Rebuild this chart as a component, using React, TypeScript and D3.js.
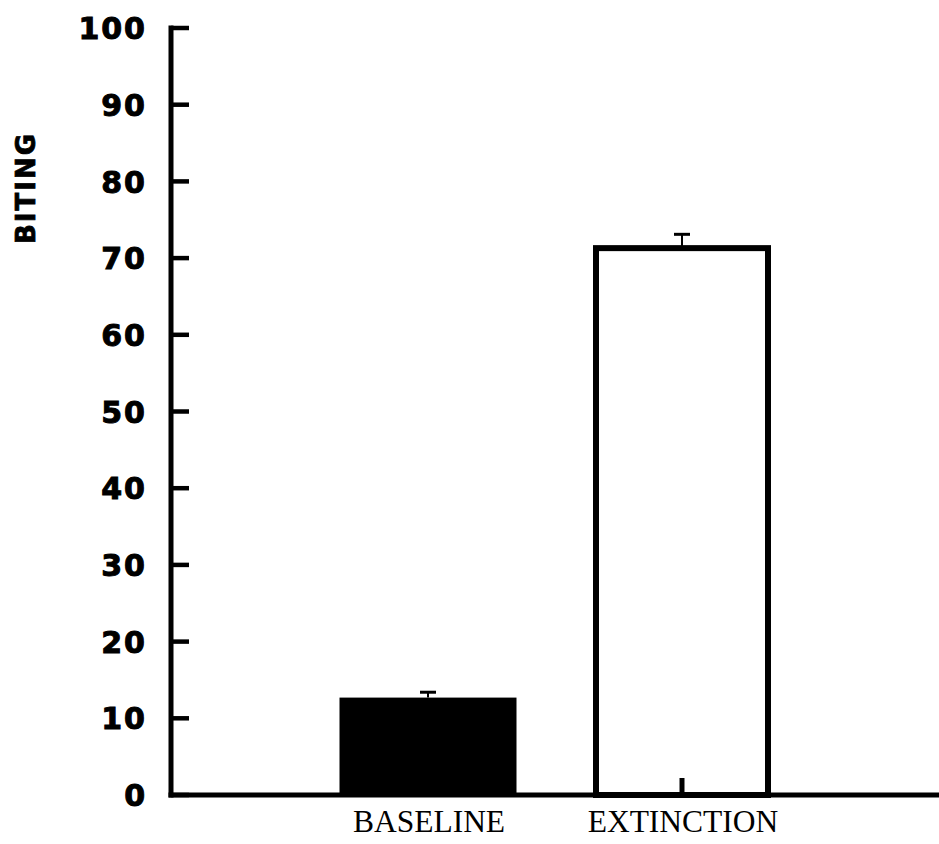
import React from "react";
import * as d3 from "d3";

// Biting rate per condition, with the upper error bound
const categories = ["BASELINE", "EXTINCTION"];
const means = [12.7, 71.3];
const upperErr = [13.4, 73.1];
const yTicks = [0, 10, 20, 30, 40, 50, 60, 70, 80, 90, 100];
const yLabel = "BITING";

const W = 939;
const H = 844;

export default function App() {
  const y = d3.scaleLinear().domain([0, 100]).range([795, 28]);
  const x = d3.scalePoint<string>().domain(categories).range([428, 682]);
  const barW = 174;
  const axisX = 171;

  return (
    <div style={{ position: "absolute", left: 0, top: 0 }}>
      <svg width={W} height={H} style={{ display: "block", background: "#fff" }}>
        {/* bars */}
        {categories.map((c, i) => {
          const cx = x(c)!;
          const filled = i === 0;
          const top = y(means[i]);
          return (
            <g key={c}>
              {filled ? (
                <rect x={cx - barW / 2 - 1.5} y={top} width={barW + 3} height={y(0) - top} fill="#000" />
              ) : (
                <rect
                  x={cx - barW / 2 + 1}
                  y={top}
                  width={barW - 2}
                  height={y(0) - top}
                  fill="#fff"
                  stroke="#000"
                  strokeWidth={6}
                />
              )}
              {/* error bar */}
              <line x1={cx} x2={cx} y1={y(upperErr[i])} y2={top} stroke="#000" strokeWidth={2} />
              <line
                x1={cx - 8}
                x2={cx + 8}
                y1={y(upperErr[i])}
                y2={y(upperErr[i])}
                stroke="#000"
                strokeWidth={3}
              />
              {/* category tick */}
              <line x1={cx} x2={cx} y1={y(0)} y2={y(0) - 17} stroke="#000" strokeWidth={5} />
              <text
                x={cx + 1}
                y={832}
                textAnchor="middle"
                fontFamily="'Liberation Serif', 'Times New Roman', serif"
                fontSize={31.5}
                fill="#000"
              >
                {c}
              </text>
            </g>
          );
        })}

        {/* y axis */}
        <line x1={axisX} x2={axisX} y1={y(100) - 2.5} y2={y(0) + 2.5} stroke="#000" strokeWidth={5} />
        {yTicks.map((t) => (
          <g key={t}>
            <line x1={axisX} x2={axisX + 18} y1={y(t)} y2={y(t)} stroke="#000" strokeWidth={4.5} />
            <text
              x={147}
              y={y(t)}
              dy="0.37em"
              textAnchor="end"
              fontFamily="'DejaVu Sans', sans-serif"
              fontWeight="bold"
              fontSize={30}
              letterSpacing={2}
              stroke="#000"
              strokeWidth={1}
              fill="#000"
            >
              {t}
            </text>
          </g>
        ))}

        {/* x axis */}
        <line x1={axisX - 2.5} x2={W} y1={y(0)} y2={y(0)} stroke="#000" strokeWidth={5} />

        <text
          transform={`translate(35,188) rotate(-90)`}
          textAnchor="middle"
          fontFamily="'DejaVu Sans', sans-serif"
          fontWeight="bold"
          fontSize={26}
          letterSpacing={2}
          stroke="#000"
          strokeWidth={0.8}
          fill="#000"
        >
          {yLabel}
        </text>
      </svg>
    </div>
  );
}
